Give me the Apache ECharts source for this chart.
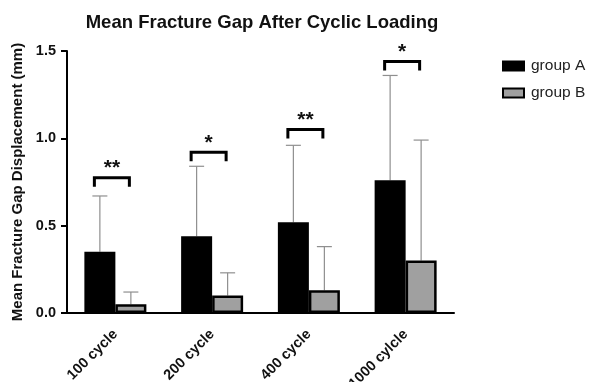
<!DOCTYPE html>
<html>
<head>
<meta charset="utf-8">
<script src="https://cdn.jsdelivr.net/npm/echarts@6/dist/echarts.min.js"></script>
<style>
  html, body { margin: 0; padding: 0; background: #fff; }
  #chart { width: 589px; height: 382px; }
</style>
</head>
<body>
<div id="chart"></div>
<script>
// values
const categories = ['100 cycle', '200 cycle', '400 cycle', '1000 cylcle'];
const groupA = [0.35, 0.44, 0.52, 0.76];
const groupB = [0.05, 0.10, 0.13, 0.30];
const groupATop = [0.67, 0.84, 0.96, 1.36];   // mean + SD
const groupBTop = [0.12, 0.23, 0.38, 0.99];
const sigLevel = [0.775, 0.92, 1.05, 1.44];    // height of bracket
const sigStars = ['**', '*', '**', '*'];
const yTicks = [0, 0.5, 1.0, 1.5];

const chart = echarts.init(document.getElementById('chart'));

const BAR_W = 31;
const FONT = 'Liberation Sans, Arial, sans-serif';

function errorBar(side) {
  return function (params, api) {
    const i = api.value(0);
    const base = api.coord([i, api.value(1)]);
    const top = api.coord([i, api.value(2)]);
    const x = base[0] + side * BAR_W / 2;
    const style = { stroke: '#8f8f8f', lineWidth: 1.2 };
    return {
      type: 'group',
      children: [
        { type: 'line', shape: { x1: x, y1: base[1], x2: x, y2: top[1] }, style },
        { type: 'line', shape: { x1: x - 7.5, y1: top[1], x2: x + 7.5, y2: top[1] }, style }
      ]
    };
  };
}

const option = {
  animation: false,
  title: {
    text: 'Mean Fracture Gap After Cyclic Loading',
    left: 257,
    textAlign: 'center',
    top: 8,
    textStyle: { fontFamily: FONT, fontSize: 18.5, fontWeight: 'bold', color: '#111' }
  },
  legend: {
    data: ['group A', 'group B'],
    orient: 'vertical',
    left: 497,
    top: 53,
    itemWidth: 21,
    itemHeight: 9,
    itemGap: 11,
    icon: 'rect',
    textStyle: { fontFamily: FONT, fontSize: 15.5, color: '#222', padding: [0, 0, 0, 2] }
  },
  grid: { left: 67, right: 135, top: 51, bottom: 69, containLabel: false, outerBoundsMode: 'none' },
  xAxis: {
    type: 'category',
    data: categories,
    axisLine: { lineStyle: { color: '#000', width: 2 } },
    axisTick: { length: 8, lineStyle: { color: '#000', width: 2 } },
    axisLabel: {
      rotate: 45, margin: 19,
      fontFamily: FONT, fontSize: 14.5, fontWeight: 'bold', color: '#111'
    }
  },
  yAxis: {
    type: 'value',
    min: 0, max: 1.5, interval: 0.5,
    name: 'Mean Fracture Gap Displacement (mm)',
    nameLocation: 'middle',
    nameGap: 42,
    nameTextStyle: { fontFamily: FONT, fontSize: 15, fontWeight: 'bold', color: '#111' },
    splitLine: { show: false },
    axisLine: { show: true, lineStyle: { color: '#000', width: 2 } },
    axisTick: { show: true, length: 6, lineStyle: { color: '#000', width: 2 } },
    axisLabel: {
      margin: 11,
      fontFamily: FONT, fontSize: 14.5, fontWeight: 'bold', color: '#111',
      formatter: v => yTicks.includes(v) ? v.toFixed(1) : ''
    }
  },
  series: [
    {
      name: 'group A',
      type: 'bar',
      data: groupA,
      barWidth: BAR_W,
      barGap: '0%',
      itemStyle: { color: '#000', borderColor: '#000', borderWidth: 2 }
    },
    {
      name: 'group B',
      type: 'bar',
      data: groupB,
      barWidth: BAR_W,
      barGap: '0%',
      itemStyle: { color: '#a0a0a0', borderColor: '#000', borderWidth: 2.5 }
    },
    {
      type: 'custom',
      renderItem: errorBar(-1),
      data: groupA.map((v, i) => [i, v, groupATop[i]]),
      z: 1,
      silent: true
    },
    {
      type: 'custom',
      renderItem: errorBar(1),
      data: groupB.map((v, i) => [i, v, groupBTop[i]]),
      z: 1,
      silent: true
    },
    {
      type: 'custom',
      silent: true,
      data: sigLevel.map((v, i) => [i, v]),
      renderItem: function (params, api) {
        const i = api.value(0);
        const p = api.coord([i, api.value(1)]);
        const x1 = p[0] - 21, x2 = p[0] + 14, y = p[1];
        return {
          type: 'group',
          children: [
            {
              type: 'polyline',
              shape: { points: [[x1, y + 9], [x1, y], [x2, y], [x2, y + 9]] },
              style: { stroke: '#000', lineWidth: 3, fill: null }
            },
            {
              type: 'text',
              style: {
                text: sigStars[params.dataIndex],
                x: (x1 + x2) / 2, y: y + 1,
                align: 'center', verticalAlign: 'bottom',
                font: 'bold 21px ' + FONT, fill: '#111'
              }
            }
          ]
        };
      }
    }
  ]
};

chart.setOption(option);
</script>
</body>
</html>
